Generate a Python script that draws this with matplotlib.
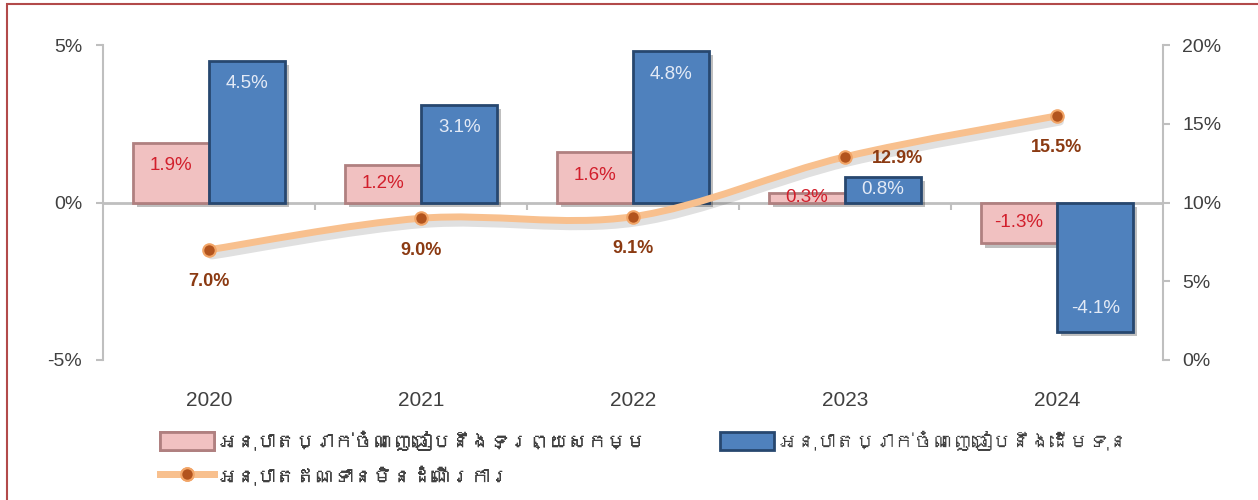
import matplotlib
matplotlib.use("Agg")
import matplotlib.pyplot as plt
import matplotlib.patheffects as pe
import matplotlib.transforms as mtransforms
from matplotlib import font_manager
from matplotlib.ft2font import FT2Font
from matplotlib.path import Path
from matplotlib.patches import PathPatch, Rectangle
from matplotlib.lines import Line2D
from matplotlib.ticker import FuncFormatter

# data
years = ["2020", "2021", "2022", "2023", "2024"]
asset_ratio = [1.9, 1.2, 1.6, 0.3, -1.3]      # pink bars, left axis
equity_ratio = [4.5, 3.1, 4.8, 0.8, -4.1]     # blue bars, left axis
npl_ratio = [7.0, 9.0, 9.1, 12.9, 15.5]       # line, right axis

label_asset = "អនុបាតប្រាក់ចំណេញធៀបនឹងទ្រព្យសកម្ម"
label_equity = "អនុបាតប្រាក់ចំណេញធៀបនឹងដើមទុន"
label_npl = "អនុបាតឥណទានមិនដំណើរការ"


def find_khmer_family():
    for f in font_manager.fontManager.ttflist:
        try:
            if 0x17A2 in FT2Font(f.fname).get_charmap():
                return f.name
        except Exception:
            pass
    return None


fams = ["Liberation Sans"]
kh = find_khmer_family()
if kh:
    fams.append(kh)
fams.append("DejaVu Sans")
plt.rcParams["font.family"] = fams

grey_txt = "#404040"
axis_grey = "#BFBFBF"
pink = "#F1C1C1"
pink_edge = "#B08080"
blue = "#4F81BD"
blue_edge = "#27476F"
line_col = "#F8C08E"
marker_col = "#B2541E"
line_lbl = "#8B3A12"

fig = plt.figure(figsize=(12.58, 5.0), dpi=100)
ax = fig.add_axes([103 / 1258, 1 - 360 / 500, 1060 / 1258, 315 / 500])
ax2 = ax.twinx()

x = list(range(len(years)))
w = 0.36
shadow = [pe.SimplePatchShadow(offset=(3, -3), shadow_rgbFace="#000000", alpha=0.25), pe.Normal()]

bars1 = ax.bar([i - w / 2 for i in x], asset_ratio, width=w, color=pink,
               edgecolor=pink_edge, linewidth=2, zorder=3)
bars2 = ax.bar([i + w / 2 for i in x], equity_ratio, width=w, color=blue,
               edgecolor=blue_edge, linewidth=2, zorder=3)
for b in list(bars1) + list(bars2):
    b.set_path_effects(shadow)

ax.set_xlim(-0.5, 4.5)
ax.set_ylim(-5, 5)
ax.set_yticks([-5, 0, 5])
ax.yaxis.set_major_formatter(FuncFormatter(lambda v, p: f"{v:.0f}%"))
ax.set_xticks(x)
ax.set_xticklabels(years)

ax2.set_ylim(0, 20)
ax2.set_yticks([0, 5, 10, 15, 20])
ax2.yaxis.set_major_formatter(FuncFormatter(lambda v, p: f"{v:.0f}%"))

for a in (ax, ax2):
    for s in ("top", "bottom"):
        a.spines[s].set_visible(False)
    a.spines["left"].set_color(axis_grey)
    a.spines["right"].set_color(axis_grey)
    a.spines["left"].set_linewidth(1.5)
    a.spines["right"].set_linewidth(1.5)
    a.patch.set_visible(False)
ax.spines["right"].set_visible(False)
ax2.spines["left"].set_visible(False)

ax.tick_params(axis="x", length=0, pad=22, labelsize=15, labelcolor=grey_txt)
ax.tick_params(axis="y", length=5, width=1.5, color=axis_grey, pad=10,
               labelsize=14, labelcolor=grey_txt)
ax2.tick_params(axis="y", length=5, width=1.5, color=axis_grey, pad=9,
                labelsize=14, labelcolor=grey_txt)

# zero line and category separators
ax.axhline(0, color=axis_grey, lw=2, zorder=2)
ax.vlines([i + 0.5 for i in x[:-1]], 0, -0.25, color=axis_grey, lw=1.5, zorder=2)

# bar labels
px_per_unit = 315 / 10.0
for bars, vals, col in ((bars1, asset_ratio, "#D21F2C"), (bars2, equity_ratio, "#E3EAF6")):
    for b, v in zip(bars, vals):
        h_px = abs(v) * px_per_unit
        off = min(23, h_px / 2) * 0.72
        sign = -1 if v >= 0 else 1
        ax.annotate(f"{v:.1f}%", (b.get_x() + b.get_width() / 2, v),
                    xytext=(0, sign * off), textcoords="offset points",
                    ha="center", va="center", fontsize=13.5, color=col, zorder=5)

# smooth line (Excel-style bezier through the points)
pts = list(zip(x, npl_ratio))
verts = [pts[0]]
codes = [Path.MOVETO]
n = len(pts)
for i in range(n - 1):
    p0 = pts[i - 1] if i > 0 else pts[i]
    p1 = pts[i]
    p2 = pts[i + 1]
    p3 = pts[i + 2] if i + 2 < n else pts[i + 1]
    c1 = (p1[0] + (p2[0] - p0[0]) / 6, p1[1] + (p2[1] - p0[1]) / 6)
    c2 = (p2[0] - (p3[0] - p1[0]) / 6, p2[1] - (p3[1] - p1[1]) / 6)
    verts += [c1, c2, p2]
    codes += [Path.CURVE4] * 3
curve_path = Path(verts, codes)
shadow_tr = mtransforms.offset_copy(ax2.transData, fig=fig, x=2, y=-4, units="points")
ax2.add_patch(PathPatch(curve_path, fill=False, edgecolor="#000000", alpha=0.12,
                        lw=6, capstyle="round", zorder=3.5, transform=shadow_tr))
ax2.add_patch(PathPatch(curve_path, fill=False, edgecolor=line_col, lw=5,
                        capstyle="round", zorder=4))
ax2.plot(x, npl_ratio, "o", ms=9, mfc=marker_col, mec="#F2A567", mew=1.5, zorder=5)

line_offsets = [(0, -23), (0, -23), (0, -23), (38, -1), (0, -23)]
for xi, v, off in zip(x, npl_ratio, line_offsets):
    ax2.annotate(f"{v:.1f}%", (xi, v), xytext=off, textcoords="offset points",
                 ha="center", va="center", fontsize=13, fontweight="bold",
                 color=line_lbl, zorder=6)

# legend
h_pink = Rectangle((0, 0), 1, 1, facecolor=pink, edgecolor=pink_edge, lw=2)
h_blue = Rectangle((0, 0), 1, 1, facecolor=blue, edgecolor=blue_edge, lw=2)
h_line = Line2D([], [], color=line_col, lw=5, marker="o", ms=9, mfc=marker_col,
                mec="#F2A567", mew=1.5)
leg1 = fig.legend([h_pink, h_line], [label_asset, label_npl], loc="upper left",
                  bbox_to_anchor=(142 / 1258, 1 - 414 / 500), frameon=False,
                  fontsize=14, handlelength=2.8, handleheight=1.0,
                  handletextpad=0.2, labelspacing=0.75, labelcolor=grey_txt)
leg2 = fig.legend([h_blue], [label_equity], loc="upper left",
                  bbox_to_anchor=(702 / 1258, 1 - 414 / 500), frameon=False,
                  fontsize=14, handlelength=2.8, handleheight=1.0,
                  handletextpad=0.2, labelcolor=grey_txt)
fig.add_artist(leg1)

# outer frame
fig.add_artist(Rectangle((7 / 1258, -0.01), 1.0, 1 - 4 / 500 + 0.01,
                         transform=fig.transFigure, fill=False,
                         edgecolor="#B24A4A", lw=1.5))

fig.savefig("out.png", dpi=100)
